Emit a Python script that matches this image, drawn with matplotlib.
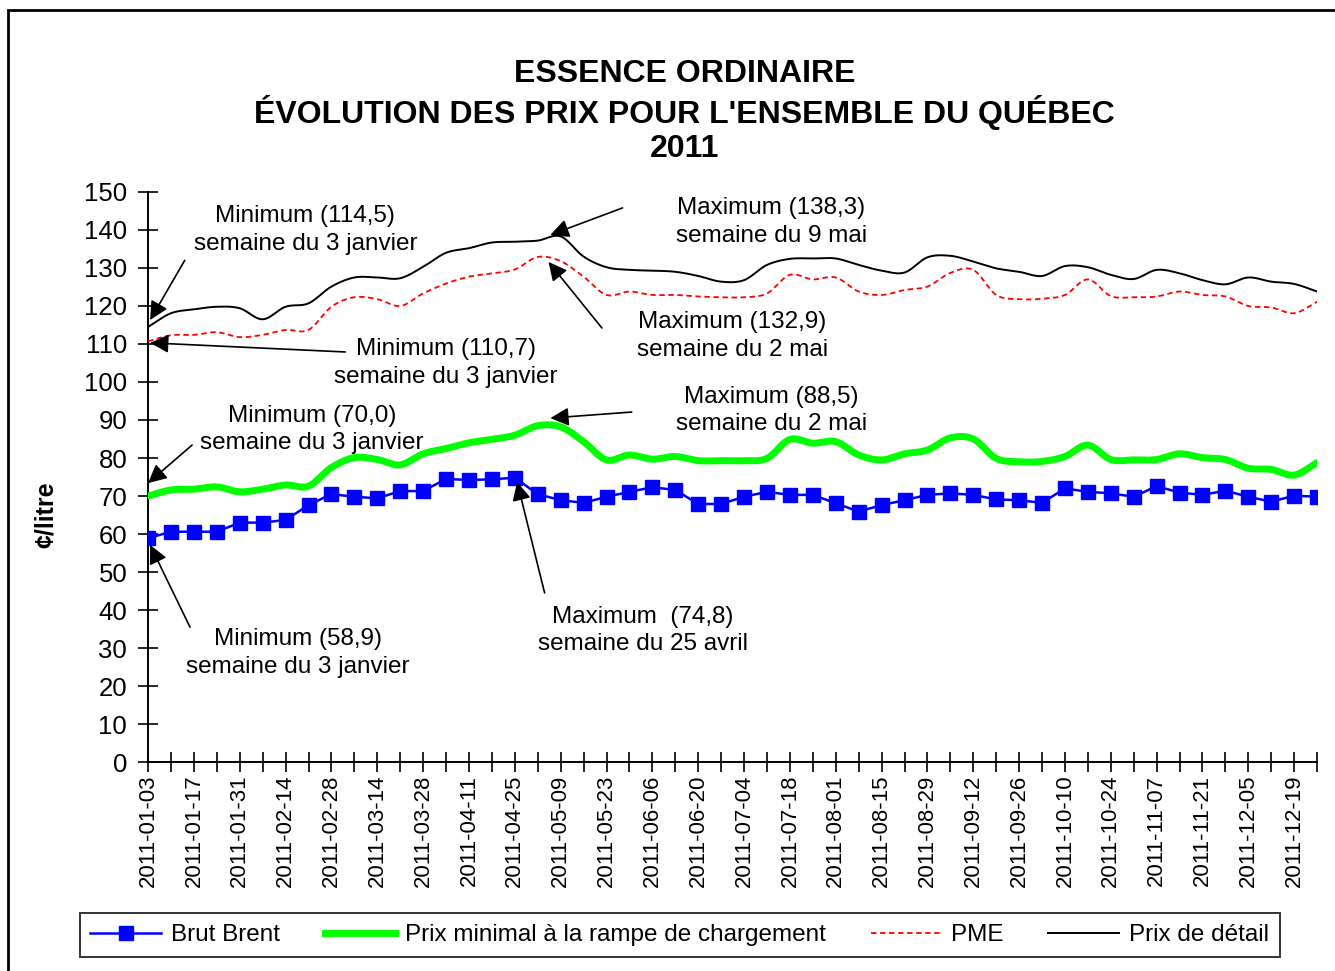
import numpy as np
import pandas as pd
import matplotlib
matplotlib.use("Agg")
import matplotlib.pyplot as plt
from matplotlib.lines import Line2D
from matplotlib.patches import Rectangle

plt.rcParams["font.family"] = ["Liberation Sans", "DejaVu Sans"]

# ── Data (weekly, cents per litre) ─────────────────────────────────────────────
weeks = pd.date_range("2011-01-03", periods=52, freq="7D").strftime("%Y-%m-%d").tolist()

brent = [58.9, 60.6, 60.6, 60.6, 63.0, 63.0, 63.7, 67.6, 70.5, 69.8,
         69.4, 71.3, 71.3, 74.5, 74.2, 74.4, 74.8, 70.5, 68.9, 68.2,
         69.8, 71.1, 72.3, 71.6, 67.9, 67.9, 69.8, 71.1, 70.3, 70.3,
         68.1, 65.9, 67.6, 68.9, 70.3, 70.7, 70.3, 69.1, 68.9, 68.2,
         72.0, 71.1, 70.7, 69.8, 72.6, 70.9, 70.3, 71.4, 69.8, 68.5,
         70.1, 69.8]

prix_minimal = [70.0, 71.6, 71.8, 72.4, 71.1, 71.8, 72.9, 72.6, 77.5, 80.1,
                79.6, 78.2, 81.1, 82.5, 84.0, 84.9, 86.0, 88.5, 88.2, 84.3,
                79.5, 80.8, 79.7, 80.4, 79.3, 79.3, 79.3, 79.9, 84.9, 83.9,
                84.3, 80.8, 79.5, 81.1, 82.1, 85.3, 85.0, 79.9, 79.0, 79.1,
                80.4, 83.4, 79.6, 79.5, 79.6, 81.1, 80.1, 79.6, 77.3, 77.0,
                75.5, 78.8]

pme = [110.7, 112.3, 112.4, 113.1, 111.8, 112.4, 113.7, 113.7, 119.8, 122.3,
       121.8, 120.0, 123.3, 125.9, 127.7, 128.6, 129.6, 132.9, 131.8, 127.7,
       122.9, 123.8, 122.9, 122.9, 122.5, 122.3, 122.3, 123.3, 128.2, 127.0,
       127.5, 123.8, 122.9, 124.2, 125.1, 128.7, 129.5, 122.9, 121.8, 121.9,
       122.9, 127.0, 122.6, 122.3, 122.5, 123.8, 122.9, 122.5, 120.0, 119.6,
       118.1, 121.1]

detail = [114.5, 118.1, 119.1, 119.8, 119.4, 116.5, 119.8, 120.7, 125.1, 127.5,
          127.5, 127.3, 130.3, 134.0, 135.2, 136.7, 136.9, 137.2, 138.3, 133.0,
          130.2, 129.5, 129.3, 129.0, 127.9, 126.4, 126.8, 130.8, 132.4, 132.5,
          132.5, 130.8, 129.3, 128.8, 132.8, 133.2, 131.7, 129.9, 129.0, 127.9,
          130.5, 130.2, 128.2, 127.1, 129.5, 128.6, 126.8, 125.7, 127.5, 126.4,
          125.8, 123.8]

# annotation text, arrow head (xy), arrow tail and text centre in data units
notes = [
    ("Minimum (114,5)\nsemaine du 3 janvier", (0.09, 116.3), (1.6, 132.0), (6.86, 140.0)),
    ("Minimum (110,7)\nsemaine du 3 janvier", (0.09, 110.3), (8.6, 107.9), (13.0, 105.0)),
    ("Maximum (138,3)\nsemaine du 9 mai", (17.55, 138.7), (20.7, 145.8), (27.2, 142.1)),
    ("Maximum (132,9)\nsemaine du 2 mai", (17.47, 131.6), (19.8, 114.2), (25.5, 112.1)),
    ("Minimum (70,0)\nsemaine du 3 janvier", (0.0, 73.4), (1.92, 83.4), (7.16, 87.4)),
    ("Maximum (88,5)\nsemaine du 2 mai", (17.55, 90.5), (21.1, 92.1), (27.2, 92.6)),
    ("Minimum (58,9)\nsemaine du 3 janvier", (0.09, 57.1), (1.83, 35.5), (6.55, 28.7)),
    ("Maximum  (74,8)\nsemaine du 25 avril", (16.1, 73.7), (17.3, 44.5), (21.6, 34.7)),
]


def smooth(y, n=12):
    """Catmull-Rom curve through the points, like Excel's smoothed line."""
    y = np.asarray(y, dtype=float)
    x = np.arange(len(y), dtype=float)
    px = np.concatenate([[2 * x[0] - x[1]], x, [2 * x[-1] - x[-2]]])
    py = np.concatenate([[2 * y[0] - y[1]], y, [2 * y[-1] - y[-2]]])
    xs, ys = [], []
    t = np.linspace(0, 1, n, endpoint=False)
    for i in range(1, len(px) - 2):
        for arr, out in ((px, xs), (py, ys)):
            p0, p1, p2, p3 = arr[i - 1], arr[i], arr[i + 1], arr[i + 2]
            out.extend(0.5 * ((2 * p1) + (-p0 + p2) * t
                              + (2 * p0 - 5 * p1 + 4 * p2 - p3) * t ** 2
                              + (-p0 + 3 * p1 - 3 * p2 + p3) * t ** 3))
    xs.append(x[-1])
    ys.append(y[-1])
    return np.array(xs), np.array(ys)


fig = plt.figure(figsize=(13.35, 9.71), dpi=100)
ax = fig.add_axes([0.1109, 0.2152, 0.8757, 0.5871])

x = np.arange(len(weeks))
ax.plot(*smooth(detail), color="black", lw=1.4, zorder=3)
ax.plot(*smooth(pme), color="#ff0000", lw=1.3, ls=(0, (3, 2)), zorder=3)
ax.plot(*smooth(prix_minimal), color="#00ff00", lw=5, solid_capstyle="round", zorder=3)
ax.plot(x, brent, color="#0000ff", lw=1.8, marker="s", ms=10.5, zorder=4)

for txt, head, tail, pos in notes:
    ax.annotate("", xy=head, xytext=tail,
                arrowprops=dict(arrowstyle="-|>", color="black", lw=1.2,
                                mutation_scale=28, shrinkA=0, shrinkB=0),
                zorder=5, annotation_clip=False)
    ax.text(pos[0], pos[1], txt, ha="center", va="center", fontsize=17.5,
            linespacing=1.3, zorder=5)

ax.set_xlim(0, len(weeks) - 1)
ax.set_ylim(0, 150)
ax.set_yticks(np.arange(0, 151, 10))
ax.set_xticks(x)
ax.set_xticklabels([w if i % 2 == 0 else "" for i, w in enumerate(weeks)],
                   rotation=90, fontsize=16)
ax.tick_params(axis="y", direction="inout", length=14, width=1.2, labelsize=18.5, pad=8)
ax.tick_params(axis="x", direction="inout", length=14, width=1.2, pad=2)
for side in ("top", "right"):
    ax.spines[side].set_visible(False)
for side in ("left", "bottom"):
    ax.spines[side].set_linewidth(1.4)

fig.text(0.034, 0.47, "¢/litre", rotation=90, fontsize=18, fontweight="bold",
         ha="center", va="center")

fig.text(0.513, 0.885, "ESSENCE ORDINAIRE\nÉVOLUTION DES PRIX POUR L'ENSEMBLE DU QUÉBEC\n2011",
         ha="center", va="center", fontsize=23, fontweight="bold", linespacing=1.2)

# chart-area border
fig.patches.append(Rectangle((0.006, -0.02), 1.1, 1.0097, transform=fig.transFigure,
                             fill=False, edgecolor="black", lw=2, zorder=0))

handles = [
    Line2D([], [], color="#0000ff", lw=1.8, marker="s", ms=10.5),
    Line2D([], [], color="#00ff00", lw=5),
    Line2D([], [], color="#ff0000", lw=1.3, ls=(0, (3, 2))),
    Line2D([], [], color="black", lw=1.4),
]
labels = ["Brut Brent", "Prix minimal à la rampe de chargement", "PME", "Prix de détail"]
leg = fig.legend(handles, labels, loc="center", bbox_to_anchor=(0.509, 0.037), ncol=4,
                 fontsize=17.5, frameon=True, fancybox=False, edgecolor="black",
                 handlelength=2.9, columnspacing=1.85, handletextpad=0.4,
                 borderpad=0.45)
leg.get_frame().set_linewidth(1.4)

fig.savefig("out.png", dpi=100)
